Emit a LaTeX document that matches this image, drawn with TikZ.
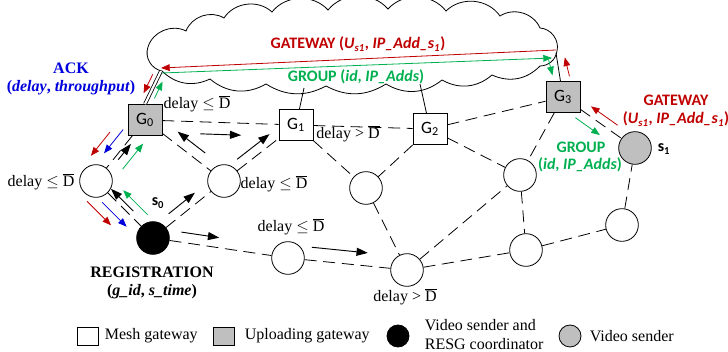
\documentclass[tikz,border=0pt]{standalone}
\usepackage{fontspec}
\setmainfont{Liberation Serif}
\setsansfont{Carlito}
\usetikzlibrary{arrows.meta,calc}

\definecolor{msgred}{RGB}{192,0,0}
\definecolor{msggreen}{RGB}{0,176,80}
\definecolor{msgblue}{RGB}{0,0,220}
\definecolor{upgray}{RGB}{191,191,191}

\newcommand{\Dbar}{$\overline{\mbox{D}}$}
% arrow beside the line #2--#3, from fraction #4 to #5, shifted sideways by #6
\newcommand{\sendmsg}[6][blk]{%
  \draw[msgarrow,#1] ($(#2)!#4!(#3)!#6!-90:(#3)$) -- ($(#2)!#5!(#3)!#6!-90:(#3)$);}

\tikzset{
  mesh/.style={draw, circle, fill=white, minimum size=24.5pt, inner sep=0pt},
  sender/.style={mesh, fill=upgray},
  coord/.style={mesh, fill=black},
  gw/.style={draw, rectangle, fill=white, minimum width=25.5pt, minimum height=23.25pt, inner sep=0pt, font=\sffamily\fontsize{13}{15}\selectfont},
  upgw/.style={gw, fill=upgray},
  link/.style={dash pattern=on 9pt off 5pt},
  msgarrow/.style={line width=0.6pt, -{Triangle[length=6.5pt,width=5pt]}},
  blk/.style={black, line width=0.7pt, -{Triangle[length=8.5pt,width=6pt]}},
  sanslbl/.style={font=\sffamily\bfseries\fontsize{12}{14}\selectfont},
  legsq/.style={draw, rectangle, minimum width=15.75pt, minimum height=13.5pt, inner sep=0pt},
  legci/.style={draw, circle, minimum size=16.5pt, inner sep=0pt}
}

\begin{document}
\begin{tikzpicture}[x=0.75pt,y=0.75pt,yscale=-1,xscale=1, line width=0.6pt, font=\fontsize{12}{14}\selectfont]
\useasboundingbox (0,0) rectangle (728,352);

%Cloud
\draw (148,47) to[bend right=50] (186,31) to[bend right=50] (224,18) to[bend right=50] (272,12)
  to[bend right=50] (328,10) to[bend right=50] (388,9) to[bend right=50] (446,11)
  to[bend right=50] (500,16) to[bend right=50] (540,28) to[bend right=50] (557,51)
  to[bend right=40] (540,66) to[bend right=35] (492,75) to[bend right=35] (442,80)
  to[bend right=35] (386,84) to[bend right=30] (326,86) to[bend right=30] (266,84)
  to[bend right=35] (210,79) to[bend right=35] (162,71) to[bend right=50] cycle;
\coordinate (cl) at (161,71);
\coordinate (cr) at (556,53);
\coordinate (n1) at (304,88);
\coordinate (n2) at (420,84);

%Gateways
\node[upgw] (G0) at (145,120) {G\textsubscript{0}};
\node[gw] (G1) at (296,125) {G\textsubscript{1}};
\node[gw] (G2) at (430,129) {G\textsubscript{2}};
\node[upgw] (G3) at (563,97) {G\textsubscript{3}};

%Mesh nodes
\node[mesh] (A) at (96,181) {};
\node[mesh] (B) at (224,181) {};
\node[mesh] (C) at (366,188) {};
\node[mesh] (D) at (288,258) {};
\node[mesh] (E) at (407,270) {};
\node[mesh] (F) at (520,175) {};
\node[mesh] (H) at (526,250) {};
\node[mesh] (I) at (622,225) {};
\node[coord] (s0) at (153,238) {};
\node[sender] (s1) at (635,148) {};

%Links to the cloud
\draw[double, double distance=1.6pt] (G0.north) -- (cl);
\draw (G1) -- (n1);
\draw (G2) -- (n2);
\draw (G3) -- (cr);

%Mesh links
\draw[link] (G0) -- (G1);
\draw[link] (G1) -- (G2);
\draw[link] (G2) -- (G3);
\draw[link] (G0) -- (A);
\draw[link] (G0) -- (B);
\draw[link] (B) -- (G1);
\draw[link] (A) -- (s0);
\draw[link] (s0) -- (B);
\draw[link] (s0) -- (D);
\draw[link] (D) -- (E);
\draw[link] (G1) -- (C);
\draw[link] (G2) -- (C);
\draw[link] (C) -- (E);
\draw[link] (G2) -- (F);
\draw[link] (E) -- (F);
\draw[link] (G3) -- (F);
\draw[link] (F) -- (H);
\draw[link] (E) -- (H);
\draw[link] (H) -- (I);
\draw[link] (I) -- (s1);
\draw[link] (G3) -- (s1);

%Messages through the cloud
\draw[msgarrow,msgred] ($(cr)+(0,-3)$) -- ($(cl)+(0,-3)$);
\draw[msgarrow,msggreen] ($(cl)+(1,2)$) -- ($(cr)+(-4,5)$);
\sendmsg[msgred]{G0.north}{cl}{0.82}{0.25}{4.5pt}
\sendmsg[msggreen]{G0.north}{cl}{0.25}{0.76}{-4.5pt}
\sendmsg[msggreen]{G3.north}{cr}{0.83}{0.28}{6.6pt}
\sendmsg[msgred]{G3.north}{cr}{0.11}{0.78}{-5.6pt}
\sendmsg[msgred]{G3}{s1}{0.69}{0.32}{6.4pt}
\sendmsg[msggreen]{G3}{s1}{0.25}{0.59}{-7.3pt}

%Messages around s0
\sendmsg[msgred]{G0}{A}{0.40}{0.79}{-14.8pt}
\sendmsg[msgblue]{G0}{A}{0.27}{0.66}{-8.3pt}
\sendmsg{G0}{A}{0.61}{0.35}{3pt}
\sendmsg[msggreen]{G0}{A}{0.67}{0.25}{10pt}
\sendmsg[msgred]{A}{s0}{0.10}{0.52}{-15.5pt}
\sendmsg[msgblue]{A}{s0}{0.24}{0.67}{-8pt}
\sendmsg{A}{s0}{0.59}{0.20}{3.8pt}
\sendmsg[msggreen]{A}{s0}{0.75}{0.32}{9.5pt}
\sendmsg{s0}{B}{0.30}{0.67}{6.8pt}
\sendmsg{B}{G0}{0.32}{0.67}{-8pt}
\sendmsg{G0}{G1}{0.37}{0.64}{-9pt}
\sendmsg{B}{G1}{0.26}{0.71}{6.8pt}
\sendmsg{s0}{D}{0.20}{0.48}{7.5pt}
\sendmsg{D}{E}{0.19}{0.66}{9.8pt}

%Labels
\node[sanslbl, text=msgred] (gwtop) at (358,44) {GATEWAY (\textit{U\textsubscript{s1}}, \textit{IP\_Add\_s\textsubscript{1}})};
\node[sanslbl, text=msggreen] (grptop) at (356,77) {GROUP (\textit{id}, \textit{IP\_Adds})};
\node[sanslbl, text=msgred] (gwright) at (676,100) {GATEWAY};
\node[sanslbl, text=msgred] (gwrightargs) at (676,119) {(\textit{U\textsubscript{s1}}, \textit{IP\_Add\_s\textsubscript{1}})};
\node[sanslbl, text=msggreen] (grpright) at (581,147) {GROUP};
\node[sanslbl, text=msggreen] (grprightargs) at (580,165) {(\textit{id}, \textit{IP\_Adds})};
\node[text=msgblue, font=\bfseries\fontsize{12}{14}\selectfont] (ack) at (71,68) {ACK};
\node[text=msgblue, font=\bfseries\fontsize{12}{14}\selectfont] (ackargs) at (71,88) {(\textit{delay}, \textit{throughput})};
\node[sanslbl] (ls0) at (158,203) {s\textsubscript{0}};
\node[sanslbl] (ls1) at (664,149) {s\textsubscript{1}};
\node[font=\bfseries\fontsize{12}{14}\selectfont] (reg) at (152,272) {REGISTRATION};
\node[font=\bfseries\fontsize{12}{14}\selectfont] (regargs) at (152,292) {(\textit{g\_id}, \textit{s\_time})};
\node (dG0) at (197,104) {delay $\leq$ \Dbar};
\node (dA) at (41,182) {delay $\leq$ \Dbar};
\node (dB) at (274,184) {delay $\leq$ \Dbar};
\node (dD) at (291,227) {delay $\leq$ \Dbar};
\node (dG1) at (348,134) {delay > \Dbar};
\node (dE) at (405,297) {delay > \Dbar};

%Legend
\node[legsq] (kmesh) at (88,336) {};
\node[anchor=west] (tmesh) at (100,336) {Mesh gateway};
\node[legsq, fill=upgray] (kup) at (224,336) {};
\node[anchor=west] (tup) at (240,336) {Uploading gateway};
\node[legci, fill=black] (kcoord) at (398,336) {};
\node[anchor=west, align=left, font=\fontsize{12}{14.5}\selectfont] (tcoord) at (420,334.5) {Video sender and\\RESG coordinator};
\node[legci, fill=upgray] (ksend) at (570,336) {};
\node[anchor=west] (tsend) at (585,336) {Video sender};
\end{tikzpicture}
\end{document}
